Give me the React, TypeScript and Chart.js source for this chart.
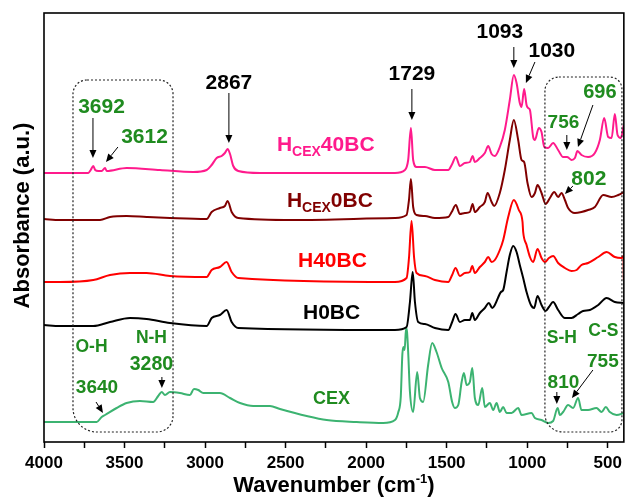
import React, { useEffect, useRef } from "react";
import { Chart, registerables } from "chart.js";

Chart.register(...registerables);

const FONT = '"Liberation Sans", Arial, Helvetica, sans-serif';

// x axis (wavenumber, cm-1), reversed
const xMin = 400;
const xMax = 4000;
const xTickValues = [4000, 3750, 3500, 3250, 3000, 2750, 2500, 2250, 2000, 1750, 1500, 1250, 1000, 750, 500];
const xLabelEvery = 500;
const yMin = 0;
const yMax = 4.29;

// spectra: [wavenumber, absorbance (offset, a.u.)]
const hcex40bc: [number, number][] = [
  [4000, 2.69], [3901, 2.69], [3725, 2.69], [3710, 2.72], [3694, 2.76], [3682, 2.72], [3663, 2.71],
  [3642, 2.71], [3621, 2.74], [3611, 2.71], [3487, 2.74], [3280, 2.72], [3073, 2.70], [2990, 2.72],
  [2959, 2.77], [2928, 2.84], [2897, 2.86], [2877, 2.89], [2860, 2.93], [2845, 2.88], [2825, 2.76],
  [2794, 2.71], [2659, 2.69], [2200, 2.69], [1821, 2.69], [1759, 2.72], [1739, 2.82], [1722, 3.14],
  [1708, 2.82], [1687, 2.75], [1635, 2.75], [1573, 2.72], [1490, 2.72], [1469, 2.77], [1443, 2.85],
  [1418, 2.76], [1387, 2.79], [1356, 2.80], [1339, 2.86], [1325, 2.80], [1294, 2.84], [1263, 2.89],
  [1242, 2.96], [1221, 2.88], [1201, 2.86], [1170, 2.95], [1139, 3.12], [1108, 3.42], [1083, 3.67],
  [1066, 3.59], [1046, 3.39], [1035, 3.35], [1019, 3.53], [1004, 3.37], [994, 3.34], [983, 3.32],
  [963, 3.05], [952, 3.02], [928, 3.14], [911, 3.10], [894, 2.95], [870, 2.94], [839, 2.99],
  [808, 2.92], [777, 2.85], [752, 2.85], [741, 2.84], [725, 2.82], [704, 2.84], [688, 2.91],
  [663, 2.87], [622, 2.85], [580, 2.89], [549, 3.02], [522, 3.24], [497, 3.05], [476, 3.04],
  [456, 3.28], [439, 3.07], [419, 3.04], [400, 3.17],
];

const hcex0bc: [number, number][] = [
  [4000, 2.23], [3901, 2.22], [3652, 2.22], [3590, 2.25], [3487, 2.26], [3363, 2.25], [3218, 2.24],
  [2990, 2.23], [2959, 2.30], [2908, 2.34], [2877, 2.36], [2860, 2.41], [2835, 2.30], [2794, 2.24],
  [2453, 2.22], [1821, 2.24], [1749, 2.27], [1734, 2.42], [1722, 2.63], [1708, 2.35], [1687, 2.27],
  [1635, 2.26], [1573, 2.24], [1490, 2.25], [1469, 2.30], [1443, 2.37], [1418, 2.28], [1387, 2.29],
  [1356, 2.30], [1339, 2.38], [1325, 2.30], [1294, 2.35], [1263, 2.40], [1246, 2.49], [1221, 2.40],
  [1205, 2.36], [1170, 2.49], [1139, 2.72], [1108, 3.02], [1083, 3.22], [1056, 3.02], [1035, 2.82],
  [1019, 2.80], [998, 2.59], [973, 2.45], [952, 2.49], [936, 2.57], [911, 2.49], [886, 2.38],
  [859, 2.44], [832, 2.50], [808, 2.45], [787, 2.49], [766, 2.42], [746, 2.34], [704, 2.29],
  [663, 2.30], [622, 2.32], [580, 2.35], [528, 2.47], [476, 2.45], [435, 2.47], [400, 2.50],
];

const h40bc: [number, number][] = [
  [4000, 1.60], [3901, 1.60], [3694, 1.62], [3590, 1.67], [3466, 1.69], [3363, 1.69], [3218, 1.66],
  [2990, 1.65], [2959, 1.72], [2908, 1.75], [2866, 1.80], [2835, 1.70], [2794, 1.64], [1821, 1.60],
  [1749, 1.64], [1734, 1.84], [1718, 2.21], [1702, 1.84], [1687, 1.69], [1635, 1.66], [1573, 1.62],
  [1490, 1.60], [1466, 1.67], [1445, 1.74], [1418, 1.66], [1387, 1.69], [1356, 1.70], [1341, 1.76],
  [1325, 1.69], [1294, 1.75], [1263, 1.80], [1242, 1.85], [1221, 1.80], [1201, 1.82], [1170, 1.92],
  [1149, 2.02], [1118, 2.25], [1083, 2.42], [1052, 2.32], [1029, 2.20], [1025, 2.10], [1004, 1.97],
  [983, 1.85], [963, 1.80], [936, 1.93], [911, 1.84], [890, 1.80], [865, 1.84], [839, 1.86],
  [808, 1.79], [766, 1.74], [725, 1.71], [693, 1.72], [663, 1.77], [622, 1.79], [559, 1.85],
  [507, 1.90], [456, 1.85], [414, 1.84], [402, 1.86], [400, 1.62],
];

const h0bc: [number, number][] = [
  [4000, 1.17], [3901, 1.16], [3694, 1.16], [3590, 1.20], [3466, 1.24], [3363, 1.23], [3218, 1.19],
  [2990, 1.16], [2959, 1.24], [2908, 1.27], [2866, 1.32], [2835, 1.20], [2794, 1.14], [1821, 1.12],
  [1749, 1.15], [1728, 1.40], [1711, 1.70], [1697, 1.40], [1677, 1.20], [1635, 1.18], [1573, 1.14],
  [1490, 1.12], [1466, 1.20], [1445, 1.28], [1418, 1.20], [1387, 1.22], [1356, 1.22], [1341, 1.29],
  [1325, 1.22], [1294, 1.29], [1263, 1.34], [1238, 1.39], [1217, 1.34], [1201, 1.37], [1163, 1.50],
  [1149, 1.52], [1128, 1.70], [1108, 1.87], [1087, 1.96], [1066, 1.90], [1046, 1.77], [1025, 1.64],
  [1004, 1.50], [977, 1.37], [957, 1.34], [936, 1.46], [911, 1.37], [886, 1.31], [865, 1.35],
  [839, 1.40], [808, 1.32], [766, 1.24], [725, 1.24], [684, 1.28], [653, 1.31], [611, 1.32],
  [559, 1.37], [507, 1.44], [456, 1.40], [400, 1.39],
];

const cex: [number, number][] = [
  [4000, 0.20], [3901, 0.20], [3818, 0.20], [3673, 0.20], [3642, 0.25], [3621, 0.27], [3549, 0.34],
  [3487, 0.39], [3404, 0.41], [3322, 0.40], [3291, 0.46], [3269, 0.50], [3249, 0.47], [3218, 0.50],
  [3156, 0.49], [3094, 0.47], [3069, 0.53], [3042, 0.52], [3011, 0.49], [2908, 0.49], [2845, 0.44],
  [2783, 0.39], [2701, 0.36], [2597, 0.36], [2535, 0.33], [2369, 0.26], [2245, 0.22], [2059, 0.20],
  [1894, 0.19], [1821, 0.22], [1800, 0.30], [1785, 0.45], [1775, 0.88], [1768, 0.95], [1761, 0.92],
  [1752, 1.14], [1746, 1.10], [1739, 0.90], [1728, 0.50], [1708, 0.30], [1683, 0.70], [1666, 0.44],
  [1646, 0.40], [1615, 0.77], [1590, 0.99], [1563, 0.90], [1531, 0.74], [1490, 0.60], [1466, 0.40],
  [1449, 0.34], [1428, 0.37], [1407, 0.60], [1393, 0.69], [1376, 0.57], [1356, 0.60], [1341, 0.74],
  [1325, 0.44], [1304, 0.37], [1279, 0.54], [1263, 0.35], [1232, 0.39], [1211, 0.32], [1190, 0.39],
  [1170, 0.30], [1149, 0.35], [1128, 0.29], [1097, 0.29], [1056, 0.34], [1035, 0.27], [973, 0.29],
  [952, 0.24], [911, 0.22], [870, 0.19], [839, 0.21], [811, 0.34], [797, 0.27], [777, 0.30],
  [746, 0.37], [715, 0.34], [684, 0.44], [663, 0.32], [622, 0.32], [570, 0.34], [538, 0.30],
  [512, 0.35], [487, 0.30], [445, 0.27], [400, 0.29],
];

const PINK = "#ff1a8c";
const DARKRED = "#800000";
const RED = "#ff0000";
const BLACK = "#000000";
const CEXGREEN = "#3cb371";
const LABELGREEN = "#1f8b1f";

const series = [
  { name: "HCEX40BC", data: hcex40bc, color: PINK },
  { name: "HCEX0BC", data: hcex0bc, color: DARKRED },
  { name: "H40BC", data: h40bc, color: RED },
  { name: "H0BC", data: h0bc, color: BLACK },
  { name: "CEX", data: cex, color: CEXGREEN },
];

// series names drawn next to curves: parts (sub = subscript), left position in data units
const seriesLabels = [
  { parts: [["H", false], ["CEX", true], ["40BC", false]], wn: 2554, y: 2.91, color: PINK, size: 21 },
  { parts: [["H", false], ["CEX", true], ["0BC", false]], wn: 2492, y: 2.35, color: DARKRED, size: 21 },
  { parts: [["H40BC", false]], wn: 2423, y: 1.75, color: RED, size: 21 },
  { parts: [["H0BC", false]], wn: 2392, y: 1.23, color: BLACK, size: 21 },
  { parts: [["CEX", false]], wn: 2330, y: 0.38, color: LABELGREEN, size: 18 },
];

// peak / band annotations (centre, baseline)
const peakLabels = [
  { text: "2867", wn: 2852, y: 3.53, color: BLACK, size: 21 },
  { text: "1729", wn: 1716, y: 3.62, color: BLACK, size: 21 },
  { text: "1093", wn: 1170, y: 4.04, color: BLACK, size: 21 },
  { text: "1030", wn: 847, y: 3.85, color: BLACK, size: 21 },
  { text: "3692", wn: 3643, y: 3.29, color: LABELGREEN, size: 21 },
  { text: "3612", wn: 3376, y: 2.99, color: LABELGREEN, size: 21 },
  { text: "756", wn: 775, y: 3.14, color: LABELGREEN, size: 19 },
  { text: "696", wn: 549, y: 3.44, color: LABELGREEN, size: 20 },
  { text: "802", wn: 617, y: 2.57, color: LABELGREEN, size: 21 },
  { text: "O-H", wn: 3705, y: 0.90, color: LABELGREEN, size: 17.5 },
  { text: "N-H", wn: 3333, y: 0.99, color: LABELGREEN, size: 17.5 },
  { text: "3280", wn: 3333, y: 0.72, color: LABELGREEN, size: 19.5 },
  { text: "3640", wn: 3671, y: 0.49, color: LABELGREEN, size: 19 },
  { text: "S-H", wn: 785, y: 0.99, color: LABELGREEN, size: 17.5 },
  { text: "C-S", wn: 527, y: 1.06, color: LABELGREEN, size: 17.5 },
  { text: "755", wn: 530, y: 0.75, color: LABELGREEN, size: 19 },
  { text: "810", wn: 775, y: 0.54, color: LABELGREEN, size: 19 },
];

// arrows: from (wn1, y1) to (wn2, y2)
const arrows = [
  [2852, 3.49, 2852, 2.99],
  [1716, 3.53, 1716, 3.22],
  [1083, 3.95, 1083, 3.74],
  [952, 3.80, 1008, 3.59],
  [754, 3.07, 754, 2.92],
  [592, 3.37, 685, 2.95],
  [716, 2.56, 766, 2.48],
  [3696, 3.24, 3696, 2.84],
  [3541, 2.95, 3615, 2.80],
  [3268, 0.65, 3268, 0.54],
  [3677, 0.40, 3634, 0.29],
  [816, 0.50, 816, 0.38],
  [592, 0.72, 722, 0.44],
];

// dotted rounded boxes: wn left, wn right, top, bottom, radii [tl, tr, br, bl]
const boxes = [
  { wn1: 3820, wn2: 3199, top: 3.62, bottom: 0.10, r: [14, 14, 16, 24] },
  { wn1: 890, wn2: 412, top: 3.65, bottom: 0.10, r: [14, 12, 12, 18] },
];

function roundBox(ctx: CanvasRenderingContext2D, l: number, t: number, r: number, b: number, rad: number[]) {
  const [tl, tr, br, bl] = rad;
  ctx.beginPath();
  ctx.moveTo(l + tl, t);
  ctx.lineTo(r - tr, t);
  ctx.arcTo(r, t, r, t + tr, tr);
  ctx.lineTo(r, b - br);
  ctx.arcTo(r, b, r - br, b, br);
  ctx.lineTo(l + bl, b);
  ctx.arcTo(l, b, l, b - bl, bl);
  ctx.lineTo(l, t + tl);
  ctx.arcTo(l, t, l + tl, t, tl);
  ctx.closePath();
}

const overlay = {
  id: "overlay",
  afterDatasetsDraw(chart: any) {
    const { ctx, chartArea: a, scales } = chart;
    const X = (v: number) => scales.x.getPixelForValue(v);
    const Y = (v: number) => scales.y.getPixelForValue(v);
    ctx.save();

    // dotted boxes
    ctx.strokeStyle = "#222";
    ctx.lineWidth = 1.2;
    ctx.setLineDash([2, 2]);
    for (const bx of boxes) {
      roundBox(ctx, X(bx.wn1), Y(bx.top), X(bx.wn2), Y(bx.bottom), bx.r);
      ctx.stroke();
    }
    ctx.setLineDash([]);

    // arrows
    ctx.strokeStyle = "#000";
    ctx.fillStyle = "#000";
    ctx.lineWidth = 1;
    for (const [w1, y1, w2, y2] of arrows) {
      const x1 = X(w1), yy1 = Y(y1), x2 = X(w2), yy2 = Y(y2);
      const ang = Math.atan2(yy2 - yy1, x2 - x1);
      const hl = 8, hw = 3.5;
      const bxp = x2 - hl * Math.cos(ang), byp = yy2 - hl * Math.sin(ang);
      ctx.beginPath();
      ctx.moveTo(x1, yy1);
      ctx.lineTo(bxp, byp);
      ctx.stroke();
      ctx.beginPath();
      ctx.moveTo(x2, yy2);
      ctx.lineTo(bxp + hw * Math.sin(ang), byp - hw * Math.cos(ang));
      ctx.lineTo(bxp - hw * Math.sin(ang), byp + hw * Math.cos(ang));
      ctx.closePath();
      ctx.fill();
    }

    // peak labels
    ctx.textAlign = "center";
    ctx.textBaseline = "alphabetic";
    for (const p of peakLabels) {
      ctx.font = `bold ${p.size}px ${FONT}`;
      ctx.fillStyle = p.color;
      ctx.fillText(p.text, X(p.wn), Y(p.y));
    }

    // series labels with subscripts
    ctx.textAlign = "left";
    for (const s of seriesLabels) {
      let x = X(s.wn);
      const base = Y(s.y);
      ctx.fillStyle = s.color;
      for (const [t, sub] of s.parts as [string, boolean][]) {
        const fs = sub ? Math.round(s.size * 0.66) : s.size;
        ctx.font = `bold ${fs}px ${FONT}`;
        ctx.fillText(t, x, sub ? base + 5 : base);
        x += ctx.measureText(t).width;
      }
    }

    // frame
    ctx.strokeStyle = "#000";
    ctx.lineWidth = 1.6;
    ctx.strokeRect(a.left, a.top, a.right - a.left, a.bottom - a.top);

    // axis titles
    ctx.fillStyle = "#000";
    const big = `bold 22px ${FONT}`;
    const small = `bold 13px ${FONT}`;
    const p1 = "Wavenumber (cm", p2 = "-1", p3 = ")";
    ctx.font = big;
    const w1 = ctx.measureText(p1).width, w3 = ctx.measureText(p3).width;
    ctx.font = small;
    const w2 = ctx.measureText(p2).width;
    let tx = (a.left + a.right) / 2 - (w1 + w2 + w3) / 2;
    const ty = a.bottom + 50;
    ctx.textAlign = "left";
    ctx.font = big;
    ctx.fillText(p1, tx, ty);
    tx += w1;
    ctx.font = small;
    ctx.fillText(p2, tx, ty - 9);
    tx += w2;
    ctx.font = big;
    ctx.fillText(p3, tx, ty);

    ctx.translate(a.left - 21, (a.top + a.bottom) / 2 - 12);
    ctx.rotate(-Math.PI / 2);
    ctx.textAlign = "center";
    ctx.textBaseline = "middle";
    ctx.font = big;
    ctx.fillText("Absorbance (a.u.)", 0, 0);
    ctx.restore();
  },
};

export default function App() {
  const ref = useRef<HTMLCanvasElement>(null);
  useEffect(() => {
    const chart = new Chart(ref.current as HTMLCanvasElement, {
      type: "line",
      data: {
        datasets: series.map((s) => ({
          label: s.name,
          data: s.data.map(([x, y]) => ({ x, y })),
          borderColor: s.color,
          backgroundColor: s.color,
          borderWidth: 2,
          pointRadius: 0,
          cubicInterpolationMode: "monotone",
          fill: false,
        })),
      },
      options: {
        animation: false,
        responsive: true,
        maintainAspectRatio: false,
        layout: { padding: { left: 0, right: 3, top: 13, bottom: 0 } },
        plugins: { legend: { display: false }, tooltip: { enabled: false }, title: { display: false } },
        scales: {
          x: {
            type: "linear",
            reverse: true,
            min: xMin,
            max: xMax,
            afterBuildTicks: (sc: any) => {
              sc.ticks = xTickValues.map((v) => ({ value: v }));
            },
            afterFit: (sc: any) => {
              sc.height = 55;
            },
            grid: {
              display: true,
              drawOnChartArea: false,
              drawTicks: true,
              tickLength: 6,
              tickColor: "#000",
              tickWidth: 1.5,
            },
            border: { display: false },
            ticks: {
              autoSkip: false,
              maxRotation: 0,
              padding: 5,
              color: "#000",
              font: { family: FONT, size: 17, weight: "bold" },
              callback: (v: any) => (Number(v) % xLabelEvery === 0 ? String(v) : ""),
            },
          },
          y: {
            min: yMin,
            max: yMax,
            afterFit: (sc: any) => {
              sc.width = 44;
            },
            grid: { display: false, drawTicks: false },
            border: { display: false },
            ticks: { display: false },
          },
        },
      },
      plugins: [overlay],
    } as any);
    return () => chart.destroy();
  }, []);
  return (
    <div style={{ position: "absolute", left: 0, top: 0, width: 627, height: 497, background: "#fff" }}>
      <canvas ref={ref} />
    </div>
  );
}
